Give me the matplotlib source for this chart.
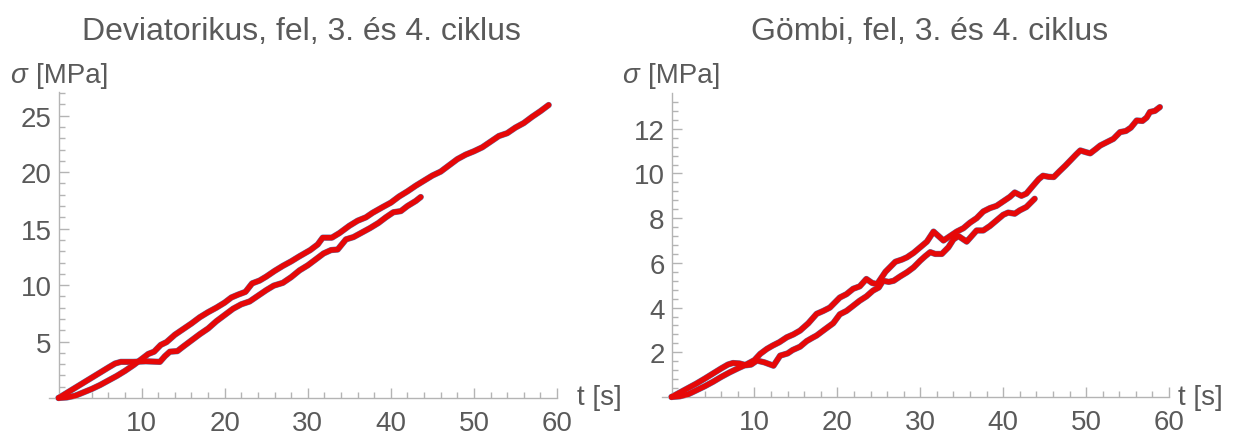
import numpy as np
import matplotlib.pyplot as plt

# Deviatorikus (left panel) - 4th cycle (ends at ~59 s) and 3rd cycle (ends at ~43.6 s)
dev4_t = [0, 1, 2, 3, 4, 5, 6, 7, 8, 9, 10, 10.8, 11.5, 12.3, 13.0, 14.0, 15.0, 16.0, 17.0,
          18.0, 19.0, 20.0, 20.8, 21.6, 22.5, 23.3, 24.2, 25.0, 26.0, 27.0, 28.0, 29.0,
          30.3, 31.2, 31.8, 32.9, 33.8, 35.0, 36.0, 37.0, 37.8, 39.0, 40.0, 41.0, 42.0,
          43.0, 44.0, 45.0, 46.0, 47.0, 48.0, 49.0, 50.0, 51.0, 52.0, 53.0, 54.0, 55.0,
          56.0, 57.0, 58.0, 59.0]
dev4_s = [0, 0.05, 0.2, 0.5, 0.8, 1.15, 1.55, 1.95, 2.4, 2.9, 3.45, 3.9, 4.1, 4.7, 4.95,
          5.6, 6.1, 6.6, 7.15, 7.6, 8.0, 8.45, 8.9, 9.15, 9.4, 10.15, 10.4, 10.75, 11.25,
          11.7, 12.1, 12.55, 13.1, 13.6, 14.2, 14.2, 14.6, 15.25, 15.7, 16.0, 16.4, 16.9,
          17.3, 17.85, 18.3, 18.8, 19.25, 19.7, 20.05, 20.6, 21.15, 21.55, 21.85, 22.2,
          22.7, 23.2, 23.45, 23.95, 24.35, 24.9, 25.4, 25.95]

dev3_t = [0, 1, 2, 3, 4, 5, 6, 6.8, 7.5, 9, 10.5, 12.2, 12.8, 13.4, 14.3, 15, 16, 17, 18,
          19, 20, 21, 22, 23, 24, 25, 25.9, 27, 28, 29, 30, 31, 31.9, 32.8, 33.6, 34.6,
          35.5, 36.5, 37.5, 38.5, 39.4, 40.3, 41.2, 42, 43, 43.6]
dev3_s = [0, 0.45, 0.9, 1.35, 1.8, 2.25, 2.7, 3.05, 3.2, 3.2, 3.25, 3.2, 3.7, 4.1, 4.15,
          4.55, 5.1, 5.65, 6.15, 6.8, 7.35, 7.9, 8.3, 8.55, 9.05, 9.55, 9.95, 10.2, 10.7,
          11.3, 11.75, 12.3, 12.8, 13.1, 13.15, 14.05, 14.25, 14.65, 15.05, 15.5, 16.0,
          16.45, 16.55, 17.0, 17.45, 17.8]

# Gömbi (right panel)
gom4_t = [0, 1, 2, 3, 4, 5, 6, 7, 8, 9, 10, 10.7, 11.5, 12.2, 13.0, 13.9, 14.7, 15.5,
          16.5, 17.5, 18.3, 19.1, 20.3, 21.1, 21.9, 22.7, 23.5, 24.2, 24.8, 25.8, 27.0,
          27.8, 28.4, 29.2, 30.0, 30.8, 31.6, 32.2, 32.8, 33.6, 34.4, 35.2, 36.0, 36.8,
          37.6, 38.4, 39.2, 40.0, 40.8, 41.4, 42.2, 42.8, 43.6, 44.3, 44.8, 45.5, 46.1,
          46.8, 47.5, 48.1, 48.8, 49.3, 50.0, 50.5, 51.2, 51.7, 52.5, 53.3, 54.1, 54.8,
          55.4, 56.1, 56.8, 57.3, 57.7, 58.3, 58.9]
gom4_s = [0, 0.03, 0.12, 0.3, 0.48, 0.68, 0.9, 1.1, 1.28, 1.45, 1.65, 1.93, 2.15, 2.3,
          2.45, 2.67, 2.8, 2.97, 3.3, 3.72, 3.85, 4.0, 4.45, 4.6, 4.84, 4.95, 5.28, 5.1,
          5.05, 5.6, 6.05, 6.15, 6.25, 6.45, 6.7, 6.95, 7.4, 7.2, 7.0, 7.2, 7.4, 7.55,
          7.8, 8.0, 8.3, 8.45, 8.55, 8.75, 8.95, 9.15, 9.0, 9.1, 9.45, 9.75, 9.9, 9.85,
          9.84, 10.1, 10.35, 10.58, 10.85, 11.03, 10.95, 10.9, 11.1, 11.25, 11.4, 11.55,
          11.85, 11.9, 12.05, 12.37, 12.35, 12.5, 12.75, 12.8, 12.97]

gom3_t = [0, 1, 2, 3, 4, 5, 6, 6.8, 7.4, 8.2, 9.0, 9.6, 10.3, 11.2, 12.3, 13.1, 14.0,
          14.6, 15.5, 16.3, 17.0, 17.5, 18.4, 19.5, 20.3, 21.1, 21.8, 22.7, 23.5, 24.3,
          25.0, 25.5, 26.2, 26.8, 27.6, 28.4, 29.2, 30.0, 30.6, 31.2, 31.8, 32.6, 33.4,
          34.0, 34.6, 35.2, 35.6, 36.2, 36.8, 37.6, 38.4, 39.2, 40.0, 40.6, 41.4, 42.0,
          42.8, 43.8]
gom3_s = [0, 0.2, 0.4, 0.6, 0.82, 1.05, 1.28, 1.45, 1.52, 1.5, 1.42, 1.45, 1.63, 1.55,
          1.4, 1.85, 1.95, 2.1, 2.25, 2.5, 2.65, 2.75, 3.0, 3.3, 3.7, 3.85, 4.05, 4.31,
          4.5, 4.76, 4.9, 5.2, 5.15, 5.2, 5.4, 5.58, 5.8, 6.1, 6.3, 6.48, 6.4, 6.4, 6.7,
          7.05, 7.2, 7.05, 6.95, 7.2, 7.45, 7.45, 7.65, 7.9, 8.15, 8.25, 8.2, 8.35, 8.5,
          8.87]

BLUE = "#5e81b5"
RED = "#e60808"
AXCOL = "#b4b4b4"
TXT = "#5a5a5a"

plt.rcParams["font.family"] = ["Liberation Sans", "DejaVu Sans"]

W, H = 1245, 439
fig = plt.figure(figsize=(W / 100, H / 100), dpi=100)


def fx(px):
    return px / W


def fy(py):
    return 1 - py / H


def panel(rect, curves, ymax, yticks, yminor, title, title_x, lab_x, t_x):
    ax = fig.add_axes(rect)
    # measured data underneath, fitted curve on top
    for t, s in curves:
        ax.plot(t, s, color=BLUE, lw=4.5, solid_capstyle="round", clip_on=False, zorder=2)
    for t, s in curves:
        ax.plot(t, s, color=RED, lw=3.9, solid_capstyle="round", clip_on=False, zorder=3)
    ax.set_xlim(-1.1, 60)
    ax.set_ylim(0, ymax)
    ax.spines["left"].set_position(("data", 0))
    for side in ["top", "right"]:
        ax.spines[side].set_visible(False)
    for side in ["left", "bottom"]:
        ax.spines[side].set_color(AXCOL)
        ax.spines[side].set_linewidth(1.0)
    ax.set_xticks([10, 20, 30, 40, 50, 60])
    ax.set_xticks(np.arange(2, 60, 2), minor=True)
    ax.set_yticks(yticks)
    ax.set_yticks(yminor, minor=True)
    ax.tick_params(which="both", direction="in", color=AXCOL, width=1.0,
                   labelcolor=TXT, labelsize=20)
    ax.tick_params(which="major", length=7)
    ax.tick_params(which="minor", length=4)
    ax.tick_params(axis="x", pad=9)
    ax.tick_params(axis="y", pad=5)
    fig.text(fx(title_x), fy(32), title, ha="center", va="center",
             fontsize=23, color=TXT)
    fig.text(fx(lab_x), fy(76), "σ", ha="left", va="center", fontsize=20,
             color=TXT, style="italic")
    fig.text(fx(lab_x + 26), fy(76), "[MPa]", ha="left", va="center",
             fontsize=20, color=TXT)
    fig.text(fx(t_x), fy(398), "t [s]", ha="left", va="center", fontsize=20,
             color=TXT)
    return ax


panel([fx(49.4), fy(399), fx(557 - 49.4), fy(93) - fy(399)],
      [(dev4_t, dev4_s), (dev3_t, dev3_s)], 27.1,
      [5, 10, 15, 20, 25], np.arange(1, 28, 1),
      "Deviatorikus, fel, 3. és 4. ciklus", 301, 10, 577)

panel([fx(662.4), fy(398), fx(1169 - 662.4), fy(94) - fy(398)],
      [(gom4_t, gom4_s), (gom3_t, gom3_s)], 13.6,
      [2, 4, 6, 8, 10, 12], np.arange(0.4, 13.6, 0.4),
      "Gömbi, fel, 3. és 4. ciklus", 930, 622, 1178)

fig.savefig("out.png", dpi=100)
